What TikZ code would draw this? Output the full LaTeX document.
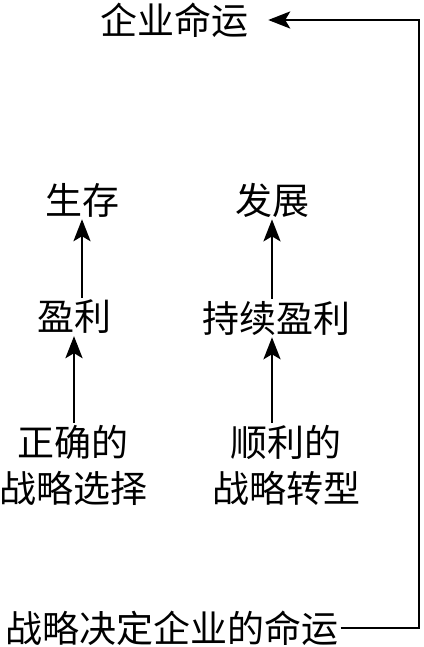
\documentclass[tikz,border=0pt]{standalone}
\usepackage{fontspec}
\newfontfamily\cjk{Noto Sans CJK SC}
\usetikzlibrary{arrows.meta}
\tikzset{
	word/.style={inner sep=2pt,font=\cjk\fontsize{37}{46}\selectfont,align=center},
	lift/.style={draw,line width=2.8pt,-{Stealth[length=22pt,width=17pt,inset=5pt]}},
}

\begin{document}
\begin{tikzpicture}[x=1pt,y=-1pt]
	\useasboundingbox (0,0) rectangle (423,647);
	\node[word] (qymy) at (174,20) {企业命运};
	\node[word] (sc) at (82,200) {生存};
	\node[word] (fz) at (272,200) {发展};
	\node[word] (yl) at (74,317) {盈利};
	\node[word] (cxyl) at (276,318) {持续盈利};
	\node[word] (zq) at (73,465) {正确的\\战略选择};
	\node[word] (slzx) at (286,465) {顺利的\\战略转型};
	\node[word] (jdmy) at (172,628) {战略决定企业的命运};
	\coordinate (turn) at (419,23);
	\path [lift] (yl.north -| sc) -- (sc.south);
	\path [lift] (cxyl.north -| fz) -- (fz.south);
	\path [lift] (zq.north -| yl) -- (yl.south);
	\path [lift] (slzx.north -| fz) -- (cxyl.south -| fz);
	\path [lift,shorten >=18pt] (jdmy.east) -- (jdmy.east -| turn) |- (qymy.east);
\end{tikzpicture}
\end{document}
